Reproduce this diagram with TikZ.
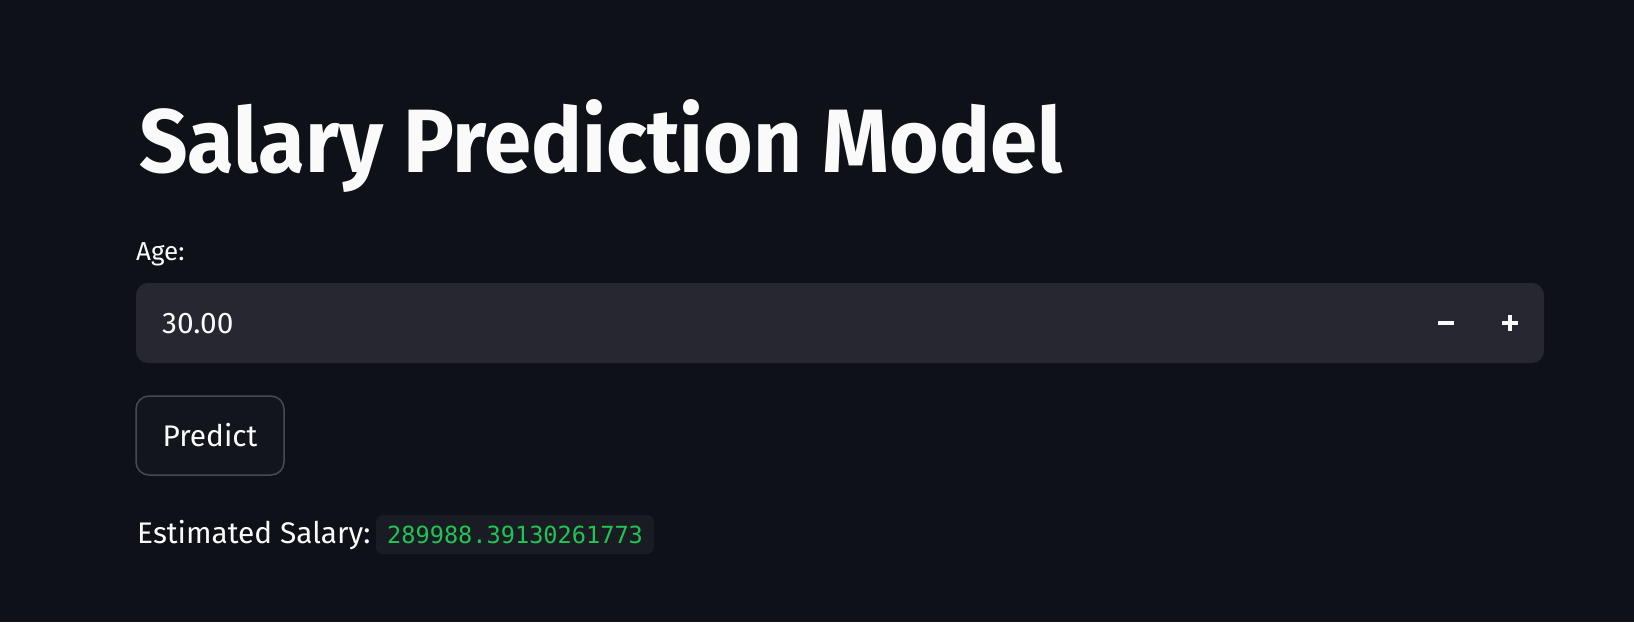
\documentclass[tikz,border=0pt]{standalone}
\usepackage{fontspec}
\setmainfont{Fira Sans}
\setmonofont{DejaVu Sans Mono}
\usetikzlibrary{positioning}
\definecolor{pagebg}{RGB}{14,17,23}
\definecolor{textwhite}{RGB}{250,250,250}
\definecolor{inputgray}{RGB}{38,39,48}
\definecolor{buttonedge}{RGB}{72,74,82}
\definecolor{buttonfill}{RGB}{18,21,28}
\definecolor{codebg}{RGB}{26,28,36}
\definecolor{codegreen}{RGB}{33,195,84}
\tikzset{
  uitext/.style={anchor=base west, inner sep=0pt, text=textwhite},
  bodyfont/.style={font=\fontsize{29.8}{29.8}\selectfont}
}
\begin{document}
\begin{tikzpicture}[x=1pt,y=-1pt]
    % Page
    \fill[pagebg] (0,0) rectangle (1634,622);
    \useasboundingbox (0,0) rectangle (1634,622);

    % Title
    \node[uitext, font=\fontsize{90}{90}\selectfont\bfseries] (title) at (139,172) {\scalebox{0.945}[1]{Salary Prediction Model}};

    % Number input
    \node[uitext, font=\fontsize{26}{26}\selectfont] (agelabel) at (136,260) {Age:};
    \fill[inputgray, rounded corners=12] (136,283) rectangle (1544,363);
    \node[uitext, bodyfont] (agevalue) at (162,333) {30.00};
    \draw[textwhite, line width=3.2] (1438,323) -- (1454,323);
    \draw[textwhite, line width=3.2] (1502,323) -- (1518,323) (1510,315) -- (1510,331);

    % Button
    \draw[buttonedge, line width=1.5, fill=buttonfill, rounded corners=13] (136,396) rectangle (284,475);
    \node[anchor=base, inner sep=0pt, text=textwhite, bodyfont] (predict) at (210,446) {Predict};

    % Result
    \node[uitext, bodyfont] (resultlabel) at (137,543) {Estimated Salary:};
    \fill[codebg, rounded corners=7] (376,515) rectangle (654,554);
    \node[anchor=base west, inner sep=0pt, text=codegreen, font=\fontsize{23.6}{23.6}\ttfamily] (resultvalue) at (387,543) {289988.39130261773};
\end{tikzpicture}
\end{document}
